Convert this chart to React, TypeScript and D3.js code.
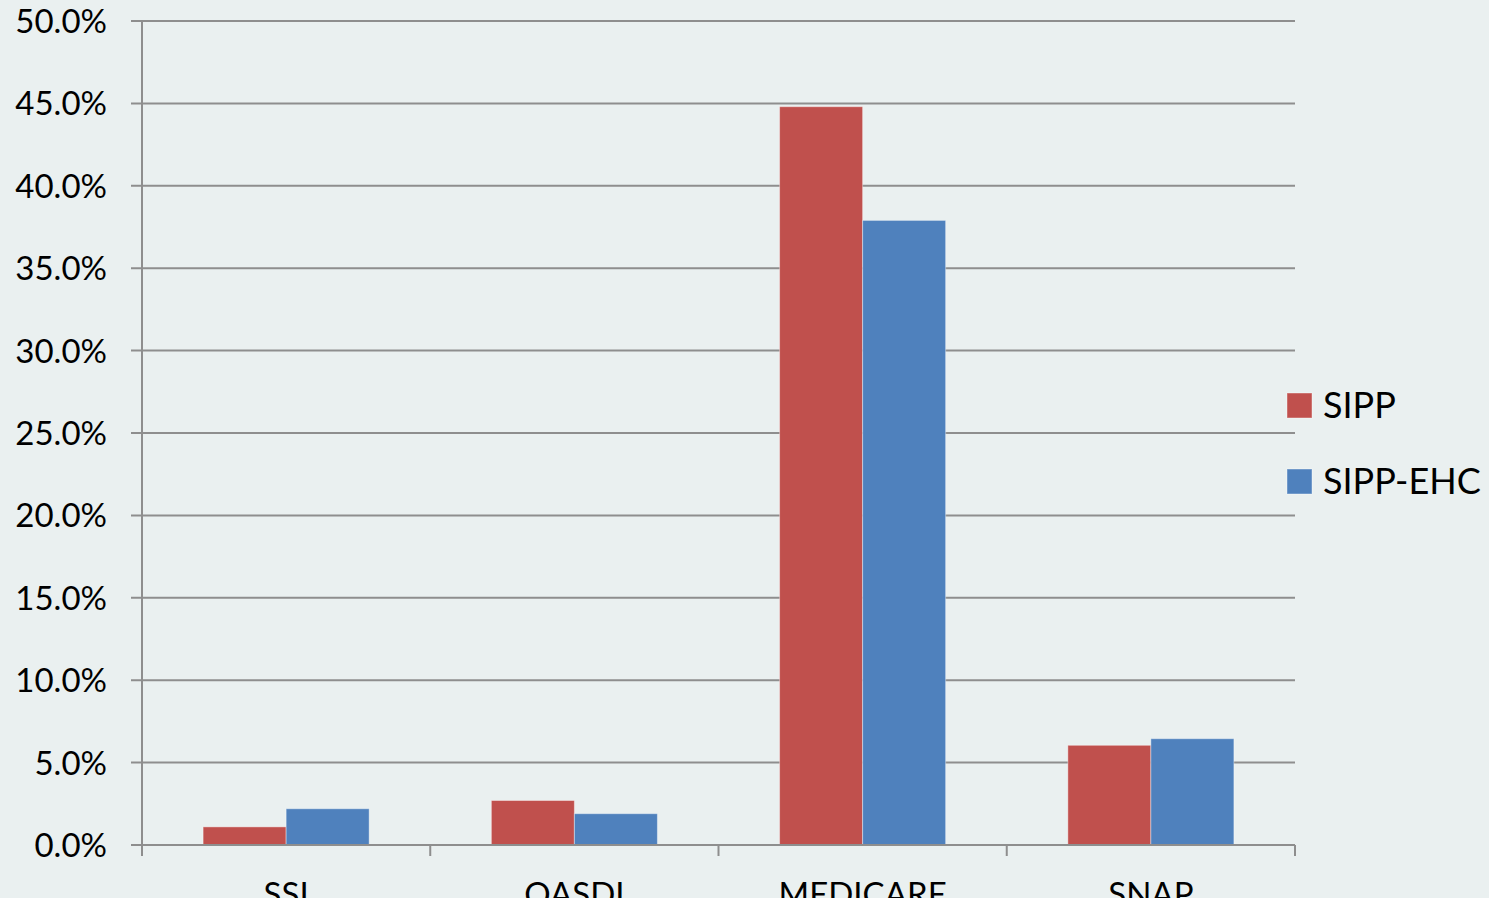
import React, { useEffect, useRef } from 'react';
import * as d3 from 'd3';

const categories = ['SSI', 'OASDI', 'MEDICARE', 'SNAP'];
const seriesNames = ['SIPP', 'SIPP-EHC'];
const sippValues = [1.1, 2.7, 44.8, 6.05];
const ehcValues = [2.2, 1.9, 37.9, 6.45];
const yTicks = [0, 5, 10, 15, 20, 25, 30, 35, 40, 45, 50];
const colors = ['#C0504D', '#4F81BD'];

const App = () => {
  const ref = useRef<SVGSVGElement>(null);

  useEffect(() => {
    const svg = d3.select(ref.current);
    svg.selectAll('*').remove();

    const width = 1489;
    const height = 907;
    const margin = { top: 21, right: 194, bottom: 62, left: 142 };
    const font = 'Lato, "Open Sans", sans-serif';
    const gridColor = '#8E8E8E';
    const textColor = '#000';

    svg.attr('width', width).attr('height', height);

    // chart area background, white strip below
    svg.append('rect').attr('width', width).attr('height', height).attr('fill', '#fff');
    svg.append('rect').attr('width', width).attr('height', 898).attr('fill', '#EAF0F0');

    svg.append('clipPath').attr('id', 'chartClip')
      .append('rect').attr('width', width).attr('height', 898);

    const g = svg.append('g').attr('clip-path', 'url(#chartClip)');

    const x0 = d3.scaleBand<string>()
      .domain(categories)
      .range([margin.left, width - margin.right]);

    const x1 = d3.scaleBand<string>()
      .domain(seriesNames)
      .range([0, x0.bandwidth()])
      .paddingOuter(0.736);

    const y = d3.scaleLinear()
      .domain([0, 50])
      .range([height - margin.bottom, margin.top]);

    // Gridlines + y ticks
    g.append('g')
      .selectAll('line')
      .data(yTicks)
      .enter()
      .append('line')
      .attr('x1', margin.left - 11)
      .attr('x2', width - margin.right)
      .attr('y1', d => y(d))
      .attr('y2', d => y(d))
      .attr('stroke', gridColor)
      .attr('stroke-width', 2);

    g.append('g')
      .selectAll('text')
      .data(yTicks)
      .enter()
      .append('text')
      .attr('x', 107)
      .attr('y', d => y(d) + 12)
      .attr('text-anchor', 'end')
      .attr('font-family', font)
      .attr('font-size', '33px')
      .attr('fill', textColor)
      .text(d => d3.format('.1f')(d) + '%');

    // Bars
    const data = categories.map((c, i) => ({ cat: c, values: [sippValues[i], ehcValues[i]] }));

    const groups = g.append('g')
      .selectAll('g')
      .data(data)
      .enter()
      .append('g')
      .attr('transform', d => `translate(${x0(d.cat)}, 0)`);

    groups.selectAll('rect')
      .data(d => d.values.map((v, i) => ({ key: seriesNames[i], v, i })))
      .enter()
      .append('rect')
      .attr('x', d => x1(d.key)!)
      .attr('y', d => y(d.v))
      .attr('width', x1.bandwidth())
      .attr('height', d => y(0) - y(d.v))
      .attr('fill', d => colors[d.i])
      .attr('stroke', 'rgba(255,255,255,0.4)')
      .attr('stroke-width', 1);

    // Axes lines
    g.append('line')
      .attr('x1', margin.left)
      .attr('x2', margin.left)
      .attr('y1', y(50))
      .attr('y2', y(0) + 11)
      .attr('stroke', gridColor)
      .attr('stroke-width', 2);

    g.append('line')
      .attr('x1', margin.left)
      .attr('x2', width - margin.right)
      .attr('y1', y(0))
      .attr('y2', y(0))
      .attr('stroke', gridColor)
      .attr('stroke-width', 2);

    const bounds = categories.map(c => x0(c)!).concat([width - margin.right]);
    g.append('g')
      .selectAll('line')
      .data(bounds)
      .enter()
      .append('line')
      .attr('x1', d => d)
      .attr('x2', d => d)
      .attr('y1', y(0))
      .attr('y2', y(0) + 11)
      .attr('stroke', gridColor)
      .attr('stroke-width', 2);

    // Category labels (cut by the chart edge as in the source)
    g.append('g')
      .selectAll('text')
      .data(categories)
      .enter()
      .append('text')
      .attr('x', d => x0(d)! + x0.bandwidth() / 2)
      .attr('y', 906)
      .attr('text-anchor', 'middle')
      .attr('font-family', font)
      .attr('font-size', '33px')
      .attr('fill', textColor)
      .text(d => d);

    // Legend
    const legend = g.append('g')
      .selectAll('g')
      .data(seriesNames)
      .enter()
      .append('g')
      .attr('transform', (d, i) => `translate(1287, ${393 + i * 76})`);

    legend.append('rect')
      .attr('width', 25)
      .attr('height', 25)
      .attr('fill', (d, i) => colors[i])
      .attr('stroke', 'rgba(255,255,255,0.4)');

    legend.append('text')
      .attr('x', 36)
      .attr('y', 25)
      .attr('font-family', font)
      .attr('font-size', '36px')
      .attr('fill', textColor)
      .text(d => d);
  }, []);

  return (
    <div style={{ position: 'fixed', top: 0, left: 0 }}>
      <svg ref={ref} style={{ display: 'block' }}></svg>
    </div>
  );
};

export default App;
